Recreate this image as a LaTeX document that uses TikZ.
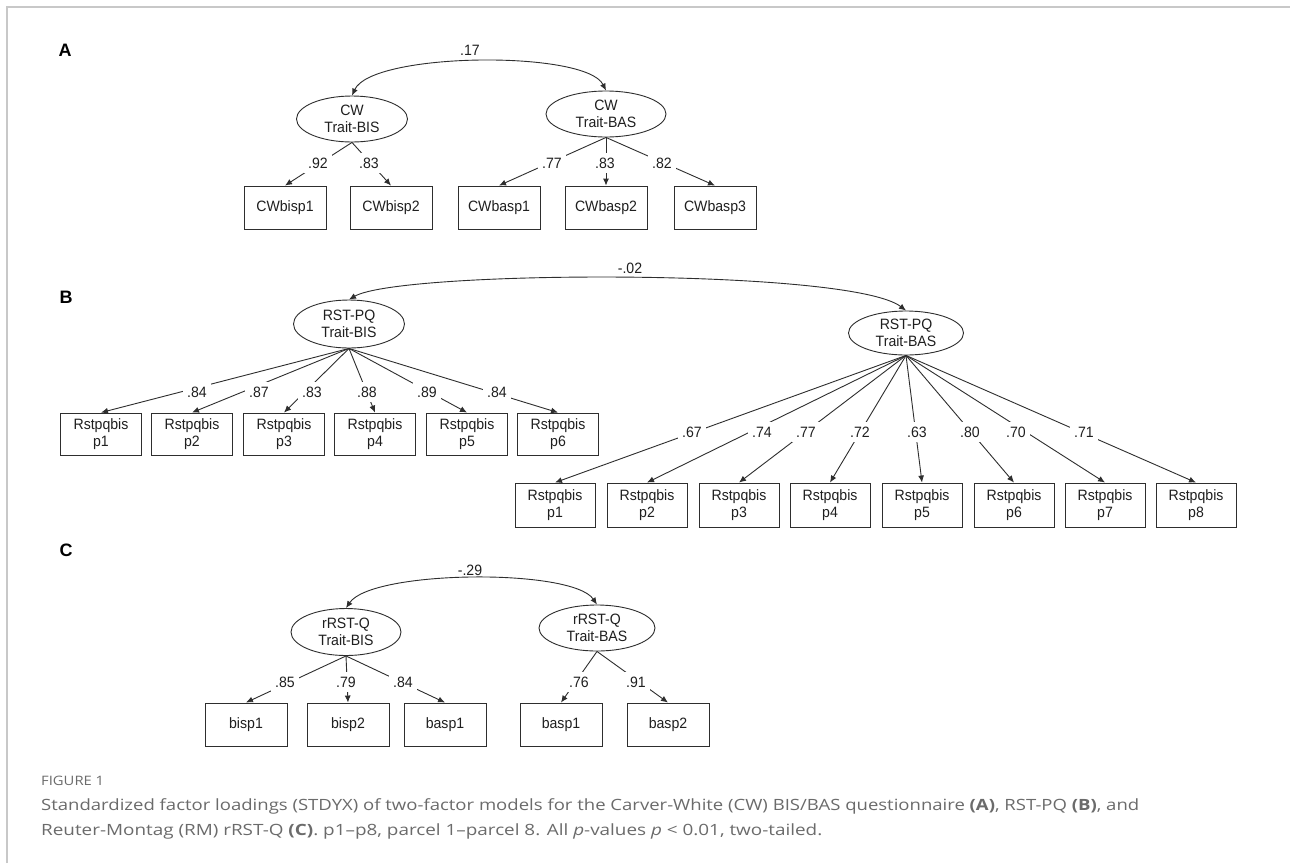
\documentclass[tikz,border=0pt]{standalone}
\usepackage{fontspec}
\setmainfont{Liberation Sans}
\newfontfamily\dgfont[FakeStretch=0.94]{Liberation Sans}
\newfontfamily\capfont{Open Sans}
\usetikzlibrary{shapes.geometric,arrows.meta}
\definecolor{ln}{HTML}{2E2E2E}
\definecolor{capgray}{HTML}{6B6B6B}
\definecolor{framegray}{HTML}{C8C8C8}
\begin{document}
\begin{tikzpicture}[x=1pt,y=-1pt,
  dg/.style={font=\dgfont\fontsize{15}{17.5}\selectfont, text=black!88},
  lat/.style={dg,ellipse,draw=ln,line width=0.9pt,inner sep=0pt,align=center},
  obs/.style={dg,rectangle,draw=ln,line width=0.9pt,minimum width=82pt,minimum height=43pt,inner sep=0pt,align=center},
  load/.style={draw=ln,line width=0.9pt,-{Latex[length=7pt,width=6pt]}},
  cov/.style={draw=ln,line width=0.9pt,{Latex[length=7pt,width=6pt]}-{Latex[length=7pt,width=6pt]}},
  lbl/.style={dg,fill=white,inner xsep=4pt,inner ysep=4.5pt},
  num/.style={dg,inner sep=1pt},
  panel/.style={font=\bfseries\fontsize{18}{20}\selectfont},
]
\useasboundingbox (0,0) rectangle (1290,863);
\fill[white] (0,0) rectangle (1290,863);
\draw[framegray,line width=2pt] (7,863) -- (7,7) -- (1290,7);

% ---------------- Panel A ----------------
\node[panel] (pA) at (65,50) {A};
\node[lat,minimum width=111pt,minimum height=46pt] (bisA) at (352,119) {CW\\Trait-BIS};
\node[lat,minimum width=120pt,minimum height=46pt] (basA) at (606,114) {CW\\Trait-BAS};
\draw[cov] (bisA.north) .. controls (372,52) and (586,50) .. (basA.north);
\node[num] (cA) at (470,50) {.17};
\foreach \n/\x/\t in {a1/285/CWbisp1,a2/391/CWbisp2,a3/499/CWbasp1,a4/606/CWbasp2,a5/715/CWbasp3}
  \node[obs] (\n) at (\x,207.5) {\t};
\foreach \n in {a1,a2} \draw[load] (bisA.south) -- (\n.north);
\foreach \n in {a3,a4,a5} \draw[load] (basA.south) -- (\n.north);
\foreach \n/\x/\t in {la1/318/.92,la2/369/.83,la3/552/.77,la4/605/.83,la5/662/.82}
  \node[lbl] (\n) at (\x,163) {\t};

% ---------------- Panel B ----------------
\node[panel] (pB) at (66,297) {B};
\node[lat,minimum width=111pt,minimum height=48pt] (bisB) at (349,324) {RST-PQ\\Trait-BIS};
\node[lat,minimum width=115pt,minimum height=44pt] (basB) at (906,333) {RST-PQ\\Trait-BAS};
\draw[cov] (bisB.north) .. controls (400,270) and (850,268) .. (basB.north);
\node[num] (cB) at (630,268) {-.02};
\foreach \n/\x/\t in {b1/101/p1,b2/192/p2,b3/284/p3,b4/375/p4,b5/467/p5,b6/558/p6}
  \node[obs,minimum width=81pt,minimum height=42pt] (\n) at (\x,434) {Rstpqbis\\\t};
\foreach \n in {b1,b2,b3,b4,b5,b6} \draw[load] (bisB.south) -- (\n.north);
\foreach \n/\x/\t in {lb1/197/.84,lb2/259/.87,lb3/312/.83,lb4/367/.88,lb5/427/.89,lb6/497/.84}
  \node[lbl] (\n) at (\x,392) {\t};
\foreach \n/\x/\t in {s1/555/p1,s2/647/p2,s3/739/p3,s4/830/p4,s5/922/p5,s6/1014/p6,s7/1105/p7,s8/1196/p8}
  \node[obs,minimum width=80pt,minimum height=44pt] (\n) at (\x,505) {Rstpqbis\\\t};
\foreach \n in {s1,s2,s3,s4,s5,s6,s7,s8} \draw[load] (basB.south) -- (\n.north);
\foreach \n/\x/\t in {ls1/692/.67,ls2/762/.74,ls3/806/.77,ls4/860/.72,ls5/917/.63,ls6/970/.80,ls7/1016/.70,ls8/1084/.71}
  \node[lbl] (\n) at (\x,432) {\t};

% ---------------- Panel C ----------------
\node[panel] (pC) at (66,550) {C};
\node[lat,minimum width=110pt,minimum height=47pt] (bisC) at (346,632) {rRST-Q\\Trait-BIS};
\node[lat,minimum width=116pt,minimum height=46pt] (basC) at (597,628) {rRST-Q\\Trait-BAS};
\draw[cov] (bisC.north) .. controls (372,570) and (572,568) .. (basC.north);
\node[num] (cC) at (470,570) {-.29};
\foreach \n/\x/\t in {c1/246/bisp1,c2/348/bisp2,c3/445/basp1,c4/561/basp1,c5/668/basp2}
  \node[obs] (\n) at (\x,724.5) {\t};
\foreach \n in {c1,c2,c3} \draw[load] (bisC.south) -- (\n.north);
\foreach \n in {c4,c5} \draw[load] (basC.south) -- (\n.north);
\foreach \n/\x/\t in {lc1/285/.85,lc2/346/.79,lc3/403/.84,lc4/579/.76,lc5/636/.91}
  \node[lbl] (\n) at (\x,682) {\t};

% ---------------- Caption ----------------
\node[anchor=west,inner sep=0pt,text=capgray] (fig) at (41,781)
  {\resizebox{63pt}{\height}{\capfont\fontsize{13}{15}\selectfont FIGURE 1}};
\node[anchor=west,inner sep=0pt,text=capgray] (cap1) at (41,806)
  {\resizebox{1098pt}{\height}{\capfont\fontsize{15.5}{18}\selectfont Standardized factor loadings (STDYX) of two-factor models for the Carver-White (CW) BIS/BAS questionnaire {\bfseries (A)}, RST-PQ {\bfseries (B)}, and}};
\node[anchor=west,inner sep=0pt,text=capgray] (cap2) at (41,831)
  {\resizebox{781pt}{\height}{\capfont\fontsize{15.5}{18}\selectfont Reuter-Montag (RM) rRST-Q {\bfseries (C)}. p1–p8, parcel 1–parcel 8. All \textit{p}-values \textit{p} < 0.01, two-tailed.}};
\end{tikzpicture}
\end{document}
